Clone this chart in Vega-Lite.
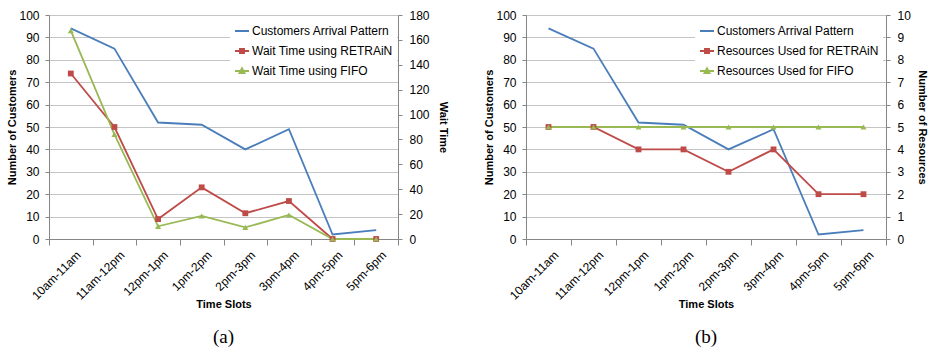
{
  "$schema": "https://vega.github.io/schema/vega-lite/v6.json",
  "padding": {"left": 6, "top": 9, "right": 0, "bottom": 0},
  "autosize": {"type": "pad"},
  "background": "white",
  "spacing": 34,
  "config": {
    "font": "Liberation Sans",
    "view": {"stroke": null},
    "axis": {
      "labelFont": "Liberation Sans", "labelFontSize": 12, "labelColor": "#000000",
      "titleFont": "Liberation Sans", "titleFontSize": 11, "titleFontWeight": "bold", "titleColor": "#000000",
      "domainColor": "#868686", "tickColor": "#868686", "gridColor": "#c4c4c4", "tickSize": 4
    },
    "legend": {
      "labelFont": "Liberation Sans", "labelFontSize": 12, "labelColor": "#000000", "labelLimit": 300,
      "symbolSize": 196, "symbolStrokeWidth": 2, "symbolOpacity": 1, "rowPadding": 6, "labelOffset": 2,
      "padding": 4, "fillColor": "white"
    },
    "title": {"font": "Liberation Serif", "fontSize": 19, "fontWeight": "normal", "color": "#000000", "frame": "group", "anchor": "middle"}
  },
  "datasets": {
    "a": [
      {"slot": "10am-11am", "series": "Customers Arrival Pattern", "value": 94},
      {"slot": "11am-12pm", "series": "Customers Arrival Pattern", "value": 85},
      {"slot": "12pm-1pm", "series": "Customers Arrival Pattern", "value": 52},
      {"slot": "1pm-2pm", "series": "Customers Arrival Pattern", "value": 51},
      {"slot": "2pm-3pm", "series": "Customers Arrival Pattern", "value": 40},
      {"slot": "3pm-4pm", "series": "Customers Arrival Pattern", "value": 49},
      {"slot": "4pm-5pm", "series": "Customers Arrival Pattern", "value": 2},
      {"slot": "5pm-6pm", "series": "Customers Arrival Pattern", "value": 4},
      {"slot": "10am-11am", "series": "Wait Time using RETRAiN", "value": 133},
      {"slot": "11am-12pm", "series": "Wait Time using RETRAiN", "value": 90},
      {"slot": "12pm-1pm", "series": "Wait Time using RETRAiN", "value": 16},
      {"slot": "1pm-2pm", "series": "Wait Time using RETRAiN", "value": 41.5},
      {"slot": "2pm-3pm", "series": "Wait Time using RETRAiN", "value": 20.7},
      {"slot": "3pm-4pm", "series": "Wait Time using RETRAiN", "value": 30.5},
      {"slot": "4pm-5pm", "series": "Wait Time using RETRAiN", "value": 0},
      {"slot": "5pm-6pm", "series": "Wait Time using RETRAiN", "value": 0},
      {"slot": "10am-11am", "series": "Wait Time using FIFO", "value": 167.4},
      {"slot": "11am-12pm", "series": "Wait Time using FIFO", "value": 84},
      {"slot": "12pm-1pm", "series": "Wait Time using FIFO", "value": 10.2},
      {"slot": "1pm-2pm", "series": "Wait Time using FIFO", "value": 18.5},
      {"slot": "2pm-3pm", "series": "Wait Time using FIFO", "value": 9.3},
      {"slot": "3pm-4pm", "series": "Wait Time using FIFO", "value": 19.3},
      {"slot": "4pm-5pm", "series": "Wait Time using FIFO", "value": 0},
      {"slot": "5pm-6pm", "series": "Wait Time using FIFO", "value": 0}
    ],
    "b": [
      {"slot": "10am-11am", "series": "Customers Arrival Pattern", "value": 94},
      {"slot": "11am-12pm", "series": "Customers Arrival Pattern", "value": 85},
      {"slot": "12pm-1pm", "series": "Customers Arrival Pattern", "value": 52},
      {"slot": "1pm-2pm", "series": "Customers Arrival Pattern", "value": 51},
      {"slot": "2pm-3pm", "series": "Customers Arrival Pattern", "value": 40},
      {"slot": "3pm-4pm", "series": "Customers Arrival Pattern", "value": 49},
      {"slot": "4pm-5pm", "series": "Customers Arrival Pattern", "value": 2},
      {"slot": "5pm-6pm", "series": "Customers Arrival Pattern", "value": 4},
      {"slot": "10am-11am", "series": "Resources Used for RETRAiN", "value": 5},
      {"slot": "11am-12pm", "series": "Resources Used for RETRAiN", "value": 5},
      {"slot": "12pm-1pm", "series": "Resources Used for RETRAiN", "value": 4},
      {"slot": "1pm-2pm", "series": "Resources Used for RETRAiN", "value": 4},
      {"slot": "2pm-3pm", "series": "Resources Used for RETRAiN", "value": 3},
      {"slot": "3pm-4pm", "series": "Resources Used for RETRAiN", "value": 4},
      {"slot": "4pm-5pm", "series": "Resources Used for RETRAiN", "value": 2},
      {"slot": "5pm-6pm", "series": "Resources Used for RETRAiN", "value": 2},
      {"slot": "10am-11am", "series": "Resources Used for FIFO", "value": 5},
      {"slot": "11am-12pm", "series": "Resources Used for FIFO", "value": 5},
      {"slot": "12pm-1pm", "series": "Resources Used for FIFO", "value": 5},
      {"slot": "1pm-2pm", "series": "Resources Used for FIFO", "value": 5},
      {"slot": "2pm-3pm", "series": "Resources Used for FIFO", "value": 5},
      {"slot": "3pm-4pm", "series": "Resources Used for FIFO", "value": 5},
      {"slot": "4pm-5pm", "series": "Resources Used for FIFO", "value": 5},
      {"slot": "5pm-6pm", "series": "Resources Used for FIFO", "value": 5}
    ]
  },
  "resolve": {"scale": {"color": "independent", "stroke": "independent", "shape": "independent"}},
  "hconcat": [
    {
      "width": 349, "height": 224,
      "data": {"name": "a"},
      "title": {"text": "(a)", "orient": "bottom", "offset": 19},
      "encoding": {
        "x": {
          "field": "slot", "type": "ordinal",
          "sort": ["10am-11am", "11am-12pm", "12pm-1pm", "1pm-2pm", "2pm-3pm", "3pm-4pm", "4pm-5pm", "5pm-6pm"],
          "scale": {"type": "band", "paddingInner": 0, "paddingOuter": 0},
          "axis": {"title": "Time Slots", "labelAngle": -45, "labelAlign": "right", "labelBaseline": "top", "labelOffset": 4, "labelPadding": 4, "tickBand": "extent", "tickSize": 6, "grid": false, "titleY": 65, "titleBaseline": "middle"}
        },
        "color": {
          "field": "series", "type": "nominal",
          "scale": {"domain": ["Customers Arrival Pattern", "Wait Time using RETRAiN", "Wait Time using FIFO"], "range": ["#4a7ebb", "#be4b48", "#98b954"]},
          "legend": {"title": null, "orient": "none", "legendX": 181, "legendY": 4}
        }
      },
      "layer": [
        {
          "transform": [{"filter": "datum.series === 'Customers Arrival Pattern'"}],
          "encoding": {
            "y": {"field": "value", "type": "quantitative", "scale": {"domain": [0, 100]},
              "axis": {"title": "Number of Customers", "values": [0, 10, 20, 30, 40, 50, 60, 70, 80, 90, 100], "grid": true, "orient": "left", "titlePadding": 1, "labelPadding": 6}}
          },
          "layer": [
            {"mark": {"type": "line", "strokeWidth": 1.8}},
            {"mark": {"type": "point", "filled": true, "opacity": 0},
             "encoding": {
               "stroke": {"field": "series", "type": "nominal",
                 "scale": {"domain": ["Customers Arrival Pattern", "Wait Time using RETRAiN", "Wait Time using FIFO"], "range": ["#4a7ebb", "#be4b48", "#98b954"]},
                 "legend": {"title": null, "orient": "none", "legendX": 181, "legendY": 4}},
               "shape": {"field": "series", "type": "nominal",
                 "scale": {"domain": ["Customers Arrival Pattern", "Wait Time using RETRAiN", "Wait Time using FIFO"], "range": ["M-1,0H1", "M-1,0H1M-0.28,-0.28H0.28V0.28H-0.28Z", "M-1,0H1M0,-0.36L0.34,0.28H-0.34Z"]},
                 "legend": {"title": null, "orient": "none", "legendX": 181, "legendY": 4}}
             }}
          ]
        },
        {
          "transform": [{"filter": "datum.series !== 'Customers Arrival Pattern'"}],
          "encoding": {
            "y": {"field": "value", "type": "quantitative", "scale": {"domain": [0, 180]},
              "axis": {"title": "Wait Time", "values": [0, 20, 40, 60, 80, 100, 120, 140, 160, 180], "grid": false, "orient": "right", "titlePadding": 8, "labelPadding": 7}}
          },
          "layer": [
            {"mark": {"type": "line", "strokeWidth": 1.8}},
            {"transform": [{"filter": "datum.series === 'Wait Time using RETRAiN'"}],
             "mark": {"type": "point", "filled": true, "opacity": 1, "size": 34, "shape": "square"}},
            {"transform": [{"filter": "datum.series === 'Wait Time using FIFO'"}],
             "mark": {"type": "point", "filled": true, "opacity": 1, "size": 36, "shape": "triangle-up"}}
          ]
        }
      ],
      "resolve": {"scale": {"y": "independent"}}
    },
    {
      "width": 360, "height": 224,
      "data": {"name": "b"},
      "title": {"text": "(b)", "orient": "bottom", "offset": 19},
      "encoding": {
        "x": {
          "field": "slot", "type": "ordinal",
          "sort": ["10am-11am", "11am-12pm", "12pm-1pm", "1pm-2pm", "2pm-3pm", "3pm-4pm", "4pm-5pm", "5pm-6pm"],
          "scale": {"type": "band", "paddingInner": 0, "paddingOuter": 0},
          "axis": {"title": "Time Slots", "labelAngle": -45, "labelAlign": "right", "labelBaseline": "top", "labelOffset": 4, "labelPadding": 4, "tickBand": "extent", "tickSize": 6, "grid": false, "titleY": 65, "titleBaseline": "middle"}
        },
        "color": {
          "field": "series", "type": "nominal",
          "scale": {"domain": ["Customers Arrival Pattern", "Resources Used for RETRAiN", "Resources Used for FIFO"], "range": ["#4a7ebb", "#be4b48", "#98b954"]},
          "legend": {"title": null, "orient": "none", "legendX": 169, "legendY": 4}
        }
      },
      "layer": [
        {
          "transform": [{"filter": "datum.series === 'Customers Arrival Pattern'"}],
          "encoding": {
            "y": {"field": "value", "type": "quantitative", "scale": {"domain": [0, 100]},
              "axis": {"title": "Number of Customers", "values": [0, 10, 20, 30, 40, 50, 60, 70, 80, 90, 100], "grid": true, "orient": "left", "titlePadding": 1, "labelPadding": 6}}
          },
          "layer": [
            {"mark": {"type": "line", "strokeWidth": 1.8}},
            {"mark": {"type": "point", "filled": true, "opacity": 0},
             "encoding": {
               "stroke": {"field": "series", "type": "nominal",
                 "scale": {"domain": ["Customers Arrival Pattern", "Resources Used for RETRAiN", "Resources Used for FIFO"], "range": ["#4a7ebb", "#be4b48", "#98b954"]},
                 "legend": {"title": null, "orient": "none", "legendX": 169, "legendY": 4}},
               "shape": {"field": "series", "type": "nominal",
                 "scale": {"domain": ["Customers Arrival Pattern", "Resources Used for RETRAiN", "Resources Used for FIFO"], "range": ["M-1,0H1", "M-1,0H1M-0.28,-0.28H0.28V0.28H-0.28Z", "M-1,0H1M0,-0.36L0.34,0.28H-0.34Z"]},
                 "legend": {"title": null, "orient": "none", "legendX": 169, "legendY": 4}}
             }}
          ]
        },
        {
          "transform": [{"filter": "datum.series !== 'Customers Arrival Pattern'"}],
          "encoding": {
            "y": {"field": "value", "type": "quantitative", "scale": {"domain": [0, 10]},
              "axis": {"title": "Number of Resources", "values": [0, 1, 2, 3, 4, 5, 6, 7, 8, 9, 10], "grid": false, "orient": "right", "titlePadding": 6, "labelPadding": 7}}
          },
          "layer": [
            {"mark": {"type": "line", "strokeWidth": 1.8}},
            {"transform": [{"filter": "datum.series === 'Resources Used for RETRAiN'"}],
             "mark": {"type": "point", "filled": true, "opacity": 1, "size": 34, "shape": "square"}},
            {"transform": [{"filter": "datum.series === 'Resources Used for FIFO'"}],
             "mark": {"type": "point", "filled": true, "opacity": 1, "size": 36, "shape": "triangle-up"}}
          ]
        }
      ],
      "resolve": {"scale": {"y": "independent"}}
    }
  ]
}
